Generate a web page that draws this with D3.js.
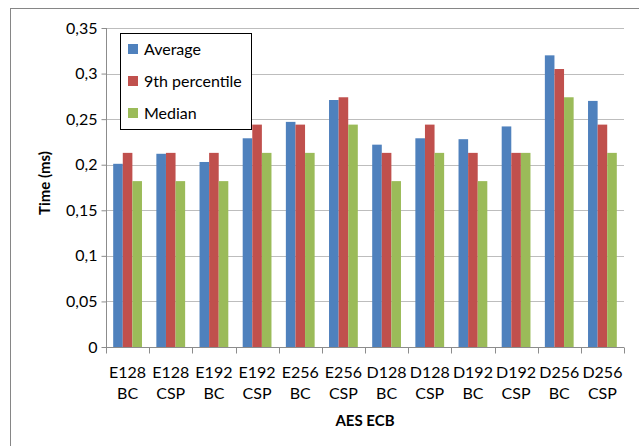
<!DOCTYPE html>
<html><head><meta charset="utf-8">
<script src="https://cdn.jsdelivr.net/npm/d3@7/dist/d3.min.js"></script>
<style>body{margin:0;background:#fff;}svg{display:block;font-family:Lato,'Open Sans',sans-serif;}</style>
</head><body>
<svg id="c" width="639" height="446"></svg>
<script>
const categories = [["E128","BC"],["E128","CSP"],["E192","BC"],["E192","CSP"],["E256","BC"],["E256","CSP"],["D128","BC"],["D128","CSP"],["D192","BC"],["D192","CSP"],["D256","BC"],["D256","CSP"]];
const seriesNames = ["Average","9th percentile","Median"];
const average = [0.201,0.212,0.203,0.229,0.247,0.271,0.222,0.229,0.228,0.242,0.320,0.270];
const pct9 = [0.213,0.213,0.213,0.244,0.244,0.274,0.213,0.244,0.213,0.213,0.305,0.244];
const median = [0.182,0.182,0.182,0.213,0.213,0.244,0.182,0.213,0.182,0.213,0.274,0.213];
const yTicks = [0,0.05,0.1,0.15,0.2,0.25,0.3,0.35];
const colors = ["#4F81BD","#C0504D","#9BBB59"];
const series = [average,pct9,median];

const svg = d3.select("#c");
svg.append("rect").attr("x",10.5).attr("y",8.5).attr("width",700).attr("height",500)
  .attr("fill","#fff").attr("stroke","#868686").attr("stroke-width",1);

const L=106,R=624,T=28,B=347;
const x = d3.scaleBand().domain(d3.range(categories.length)).range([L,R]).paddingInner(0).paddingOuter(0);
const bw = x.bandwidth()/4.5;
const y = d3.scaleLinear().domain([0,0.35]).range([B,T]);

// gridlines
svg.append("g").selectAll("line").data(yTicks.slice(1)).join("line")
  .attr("x1",L).attr("x2",R).attr("y1",d=>Math.round(y(d))+0.5).attr("y2",d=>Math.round(y(d))+0.5)
  .attr("stroke","#bdbdbd").attr("stroke-width",1.2);

// bars
series.forEach((s,si)=>{
  svg.append("g").selectAll("rect").data(s).join("rect")
    .attr("x",(d,i)=>x(i)+bw*0.75+si*bw).attr("width",bw)
    .attr("y",d=>y(d)).attr("height",d=>B-y(d))
    .attr("fill",colors[si]);
});

// y axis
const ya = svg.append("g").attr("transform",`translate(${L+0.5},0)`)
  .call(d3.axisLeft(y).tickValues(yTicks).tickSize(5).tickFormat(d=>d3.format("")(+d.toFixed(2)).replace(".",",")));
ya.select(".domain").attr("stroke","#8c8c8c").attr("d",`M0,${T}V${B}`);
ya.selectAll(".tick line").attr("stroke","#8c8c8c");
ya.selectAll(".tick text").attr("font-family","Lato,sans-serif").attr("font-size",16).attr("fill","#000").attr("x",-9);

// x axis
const xa = svg.append("g").attr("transform",`translate(0,${B+0.5})`);
xa.append("line").attr("x1",L).attr("x2",R).attr("stroke","#8c8c8c");
xa.selectAll("line.t").data(d3.range(categories.length+1)).join("line").attr("class","t")
  .attr("x1",i=>Math.round(i<categories.length?x(i):R)+0.5).attr("x2",i=>Math.round(i<categories.length?x(i):R)+0.5)
  .attr("y1",0).attr("y2",6).attr("stroke","#8c8c8c");
categories.forEach((c,i)=>{
  const t = xa.append("text").attr("x",x(i)+x.bandwidth()/2).attr("text-anchor","middle")
    .attr("font-size",16).attr("fill","#000");
  t.append("tspan").attr("x",x(i)+x.bandwidth()/2).attr("y",30.5).text(c[0]);
  t.append("tspan").attr("x",x(i)+x.bandwidth()/2).attr("y",51.5).text(c[1]);
});

svg.append("text").attr("x",365).attr("y",426).attr("text-anchor","middle")
  .attr("font-weight","bold").attr("font-size",15).text("AES ECB");
svg.append("text").attr("transform","translate(50,183) rotate(-90)").attr("text-anchor","middle")
  .attr("font-weight","bold").attr("font-size",15).text("Time (ms)");

// legend
const lg = svg.append("g");
lg.append("rect").attr("x",120.5).attr("y",33.5).attr("width",131).attr("height",96)
  .attr("fill","#fff").attr("stroke","#000").attr("stroke-width",1);
seriesNames.forEach((n,i)=>{
  const cy = 49 + i*32;
  lg.append("rect").attr("x",128).attr("y",cy-5).attr("width",10).attr("height",10).attr("fill",colors[i]);
  lg.append("text").attr("x",144).attr("y",cy+5.5).attr("font-size",16).text(n);
});
</script>
</body></html>
